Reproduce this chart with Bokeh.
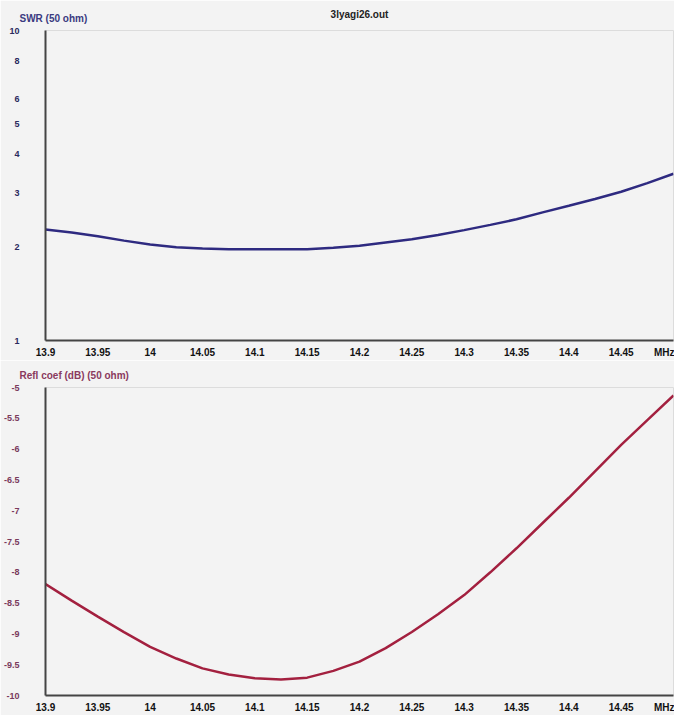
from bokeh.plotting import figure
from bokeh.layouts import column
from bokeh.models import FixedTicker, Range1d, Title
from bokeh.embed import file_html
from bokeh.resources import INLINE

# ---- data ----
freq = [13.9, 13.925, 13.95, 13.975, 14.0, 14.025, 14.05, 14.075, 14.1, 14.125,
        14.15, 14.175, 14.2, 14.225, 14.25, 14.275, 14.3, 14.325, 14.35, 14.375,
        14.4, 14.425, 14.45, 14.475, 14.5]
swr = [2.28, 2.23, 2.17, 2.10, 2.04, 2.00, 1.98, 1.97, 1.97, 1.97,
       1.97, 1.99, 2.02, 2.07, 2.12, 2.19, 2.27, 2.36, 2.46, 2.59,
       2.72, 2.86, 3.02, 3.22, 3.45]
refl_db = [-8.19, -8.46, -8.72, -8.97, -9.21, -9.40, -9.56, -9.66, -9.72, -9.74,
           -9.71, -9.60, -9.45, -9.23, -8.97, -8.68, -8.37, -8.00, -7.61, -7.20,
           -6.79, -6.36, -5.93, -5.53, -5.13]

x_ticks = [13.9, 13.95, 14.0, 14.05, 14.1, 14.15, 14.2, 14.25, 14.3, 14.35, 14.4, 14.45, 14.5]
x_tick_labels = ["13.9", "13.95", "14", "14.05", "14.1", "14.15", "14.2", "14.25",
                 "14.3", "14.35", "14.4", "14.45", "MHz"]
swr_ticks = [1, 2, 3, 4, 5, 6, 8, 10]
swr_tick_labels = ["1", "2", "3", "4", "5", "6", "8", "10"]
db_ticks = [-5, -5.5, -6, -6.5, -7, -7.5, -8, -8.5, -9, -9.5, -10]
db_tick_labels = ["-5", "-5.5", "-6", "-6.5", "-7", "-7.5", "-8", "-8.5", "-9", "-9.5", "-10"]

title_file = "3lyagi26.out"
title_swr = "SWR (50 ohm)"
title_refl = "Refl coef (dB) (50 ohm)"

BG = "#f3f3f3"
FONT = "Liberation Sans"


def style(p, ylabel_color):
    p.background_fill_color = BG
    p.border_fill_color = BG
    p.outline_line_color = "#dcdcdc"
    p.xgrid.visible = False
    p.ygrid.visible = False
    for ax in (p.xaxis[0], p.yaxis[0]):
        ax.major_tick_line_color = None
        ax.minor_tick_line_color = None
        ax.major_tick_out = 0
        ax.major_tick_in = 0
        ax.axis_line_color = "#444444"
        ax.axis_line_width = 2
        ax.major_label_text_font = FONT
        ax.major_label_text_font_style = "bold"
    p.xaxis[0].ticker = FixedTicker(ticks=x_ticks)
    p.xaxis[0].major_label_overrides = dict(zip(x_ticks, x_tick_labels))
    p.xaxis[0].major_label_text_font_size = "10px"
    p.xaxis[0].major_label_text_color = "#111111"
    p.xaxis[0].major_label_standoff = 6
    p.yaxis[0].major_label_text_font_size = "9px"
    p.yaxis[0].major_label_text_color = ylabel_color
    p.yaxis[0].major_label_text_align = "left"
    p.yaxis[0].major_label_standoff = 26


# ---- top: SWR ----
p1 = figure(width=674, height=360, y_axis_type="log",
            x_range=Range1d(13.9, 14.5), y_range=Range1d(1, 10),
            output_backend="svg", toolbar_location=None,
            min_border_left=36, min_border_right=1, min_border_top=30, min_border_bottom=20)
style(p1, "#2a2a5e")
p1.yaxis[0].ticker = FixedTicker(ticks=swr_ticks)
p1.yaxis[0].major_label_overrides = dict(zip(swr_ticks, swr_tick_labels))
p1.line(freq, swr, line_color="#2e2a80", line_width=2.5)
# file name title (outermost), pulled down next to the SWR caption
p1.title.text = title_file
p1.title.align = "center"
p1.title.offset = -20
p1.title.text_font = FONT
p1.title.text_font_style = "bold"
p1.title.text_font_size = "10px"
p1.title.text_color = "#222222"
p1.title.standoff = -32
# SWR caption, next to the frame
p1.add_layout(Title(text=title_swr, align="left", offset=-26, standoff=14,
                    text_font=FONT, text_font_style="bold", text_font_size="10px",
                    text_color="#3a3a80"), "above")

# ---- bottom: reflection coefficient ----
p2 = figure(width=674, height=355,
            x_range=Range1d(13.9, 14.5), y_range=Range1d(-10, -5),
            output_backend="svg", toolbar_location=None,
            min_border_left=36, min_border_right=1, min_border_top=25, min_border_bottom=18)
style(p2, "#7a3a5c")
p2.yaxis[0].ticker = FixedTicker(ticks=db_ticks)
p2.yaxis[0].major_label_overrides = dict(zip(db_ticks, db_tick_labels))
p2.line(freq, refl_db, line_color="#a3203f", line_width=2.5)
p2.title.text = title_refl
p2.title.align = "left"
p2.title.offset = -26
p2.title.text_font = FONT
p2.title.text_font_style = "bold"
p2.title.text_font_size = "10px"
p2.title.text_color = "#8a3a5e"
p2.title.standoff = 14

layout = column(p1, p2, spacing=0)

html = file_html(layout, INLINE)
html = html.replace("<body>", '<body style="background-color:#f3f3f3; overflow:hidden;">', 1)
open("out.html", "w").write(html)
